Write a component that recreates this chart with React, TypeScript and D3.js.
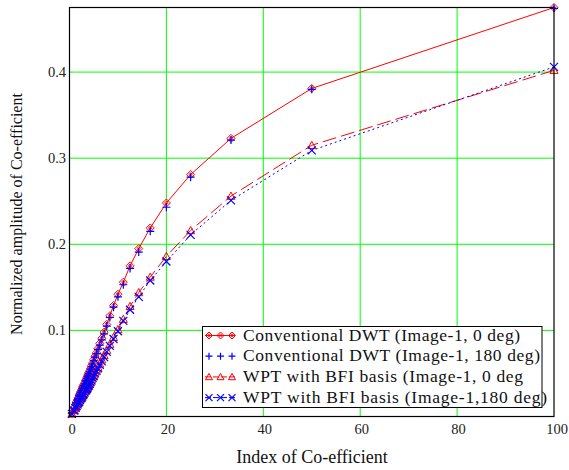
import * as d3 from 'd3';

// x positions of the coefficients (index)
const xIndex = [100, 50, 33.33, 25, 20, 16.67, 14.29, 12.5, 11.11, 10, 9.09, 8.33, 7.69, 7.14, 6.67, 6.25, 5.88, 5.56, 5.26, 5,
    4.76, 4.55, 4.35, 4.17, 4, 3.85, 3.7, 3.57, 3.45, 3.33, 3.13, 2.94, 2.78, 2.63, 2.5, 2.33, 2.17, 2, 1.82, 1.67,
    1.43, 1.25, 1, 0.5];

const dwt0 = [0.475, 0.381, 0.323, 0.281, 0.248, 0.219, 0.195, 0.175, 0.156, 0.142, 0.129, 0.117, 0.107, 0.098, 0.091, 0.085, 0.079, 0.074, 0.070, 0.066,
    0.062, 0.059, 0.056, 0.053, 0.051, 0.049, 0.047, 0.045, 0.043, 0.042, 0.039, 0.037, 0.035, 0.033, 0.031, 0.029, 0.027, 0.025, 0.022, 0.020,
    0.017, 0.014, 0.010, 0.004];
const dwt180 = [0.474, 0.380, 0.321, 0.278, 0.243, 0.215, 0.191, 0.172, 0.153, 0.139, 0.127, 0.115, 0.105, 0.096, 0.089, 0.083, 0.078, 0.073, 0.069, 0.065,
    0.061, 0.058, 0.055, 0.052, 0.050, 0.048, 0.046, 0.044, 0.042, 0.041, 0.038, 0.036, 0.034, 0.032, 0.030, 0.028, 0.026, 0.024, 0.021, 0.019,
    0.016, 0.013, 0.009, 0.004];
const wpt0 = [0.402, 0.315, 0.256, 0.216, 0.186, 0.162, 0.144, 0.128, 0.113, 0.101, 0.092, 0.084, 0.077, 0.071, 0.066, 0.061, 0.057, 0.054, 0.051, 0.048,
    0.046, 0.043, 0.041, 0.039, 0.037, 0.036, 0.034, 0.033, 0.032, 0.031, 0.029, 0.027, 0.025, 0.024, 0.023, 0.021, 0.020, 0.018, 0.016, 0.015,
    0.012, 0.010, 0.007, 0.003];
const wpt180 = [0.406, 0.309, 0.251, 0.211, 0.180, 0.158, 0.139, 0.124, 0.111, 0.099, 0.090, 0.082, 0.075, 0.069, 0.064, 0.060, 0.056, 0.053, 0.050, 0.047,
    0.045, 0.042, 0.040, 0.038, 0.036, 0.035, 0.033, 0.032, 0.031, 0.030, 0.028, 0.026, 0.025, 0.023, 0.022, 0.021, 0.019, 0.017, 0.016, 0.014,
    0.012, 0.010, 0.007, 0.003];

const legendLabels = [
    'Conventional DWT (Image-1, 0 deg)',
    'Conventional DWT (Image-1, 180 deg)',
    'WPT with BFI basis (Image-1, 0 deg',
    'WPT with BFI basis (Image-1,180 deg)',
];
const xTicks = [0, 20, 40, 60, 80, 100];
const yTicks = [0.1, 0.2, 0.3, 0.4];

const FONT = 'Liberation Serif';

const width = 569;
const height = 470;
const margin = { top: 7.5, right: 15, bottom: 53.5, left: 69.5 };

const x = d3.scaleLinear().domain([0, 100]).range([margin.left, width - margin.right]);
const y = d3.scaleLinear().domain([0, 0.475]).range([height - margin.bottom, margin.top]);

const series = [
    { values: dwt0, color: '#ff0000', dash: undefined, marker: 'diamond', line: true },
    { values: dwt180, color: '#0000ff', dash: undefined, marker: 'plus', line: false },
    { values: wpt0, color: '#ff0000', dash: '14,5', marker: 'triangle', line: true },
    { values: wpt180, color: '#0000ff', dash: '2,3', marker: 'cross', line: true },
];

const line = d3.line<number>()
    .x((_, i) => x(xIndex[i]))
    .y(d => y(d));

// legend text widths as measured on the original
const legendWidths = [277, 297, 280, 304];

function Marker({ type, color, cx, cy, s = 4 }) {
    if (type === 'diamond') {
        return (
            <g>
                <path d={`M${cx - s},${cy}L${cx},${cy - s}L${cx + s},${cy}L${cx},${cy + s}Z`} fill="none" stroke={color} strokeWidth={1} />
                <circle cx={cx} cy={cy} r={s * 0.38} fill="none" stroke={color} strokeWidth={0.8} />
            </g>
        );
    }
    if (type === 'plus') {
        return <path d={`M${cx - s},${cy}H${cx + s}M${cx},${cy - s}V${cy + s}`} stroke={color} strokeWidth={1.2} />;
    }
    if (type === 'triangle') {
        return <path d={`M${cx - s},${cy + s * 0.8}L${cx},${cy - s}L${cx + s},${cy + s * 0.8}Z`} fill="none" stroke={color} strokeWidth={1} />;
    }
    return <path d={`M${cx - s},${cy - s}L${cx + s},${cy + s}M${cx - s},${cy + s}L${cx + s},${cy - s}`} stroke={color} strokeWidth={1.2} />;
}

export default function App() {
    const [y0, y1] = y.domain();
    return (
        <svg width={width} height={height} style={{ display: 'block', position: 'absolute', left: 0, top: 0 }}>
            {/* grid */}
            {xTicks.filter(t => t > 0 && t < 100).map(t => (
                <line key={'gx' + t} x1={x(t)} x2={x(t)} y1={y(y0)} y2={y(y1)} stroke="#00ff00" strokeWidth={1} />
            ))}
            {yTicks.map(t => (
                <line key={'gy' + t} x1={x(0)} x2={x(100)} y1={y(t)} y2={y(t)} stroke="#00ff00" strokeWidth={1} />
            ))}

            {/* lines */}
            {series.filter(s => s.line).map((s, k) => (
                <path key={'l' + k} d={line(s.values)} fill="none" stroke={s.color} strokeWidth={1} strokeDasharray={s.dash} />
            ))}
            {/* markers */}
            {series.map((s, k) => (
                <g key={'m' + k}>
                    {s.values.map((v, i) => (
                        <Marker key={i} type={s.marker} color={s.color} cx={x(xIndex[i])} cy={y(v)} />
                    ))}
                </g>
            ))}

            {/* frame */}
            <rect x={x(0)} y={y(y1)} width={x(100) - x(0)} height={y(y0) - y(y1)} fill="none" stroke="#000" strokeWidth={1.2} />

            {/* tick labels */}
            {xTicks.map(t => (
                <text key={'tx' + t} x={t === 0 ? x(t) - 1 : x(t) + (t === 100 ? 3 : 1.5)} y={434}
                    textAnchor={t === 0 ? 'start' : 'middle'} fontFamily={FONT} fontSize={14.5} fill="#222">
                    {t}
                </text>
            ))}
            {yTicks.map(t => (
                <text key={'ty' + t} x={66} y={y(t) + 4.5} textAnchor="end" fontFamily={FONT} fontSize={14.5} fill="#222">
                    {t.toFixed(1)}
                </text>
            ))}

            {/* axis titles */}
            <text x={312} y={463} textAnchor="middle" fontFamily={FONT} fontSize={18} fill="#111">Index of Co-efficient</text>
            <text transform="translate(22,214) rotate(-90)" textAnchor="middle" fontFamily={FONT} fontSize={16} fill="#111">
                Normalized amplitude of Co-efficient
            </text>

            {/* legend */}
            <g>
                <rect x={202.5} y={326.5} width={339.5} height={81} fill="#fff" stroke="#000" strokeWidth={1} />
                {series.map((s, i) => {
                    const cy = 335.5 + i * 20.7;
                    return (
                        <g key={'lg' + i}>
                            {s.line && (
                                <line x1={205} x2={235} y1={cy} y2={cy} stroke={s.color} strokeWidth={1} strokeDasharray={s.dash ? '6,2' : undefined} />
                            )}
                            {[209, 220.5, 232].map(cx => (
                                <Marker key={cx} type={s.marker} color={s.color} cx={cx} cy={cy} s={3.5} />
                            ))}
                            <text x={243} y={cy + 5} fontFamily={FONT} fontSize={17.5} fill="#111"
                                textLength={legendWidths[i]} lengthAdjust="spacing">
                                {legendLabels[i]}
                            </text>
                        </g>
                    );
                })}
            </g>
        </svg>
    );
}
